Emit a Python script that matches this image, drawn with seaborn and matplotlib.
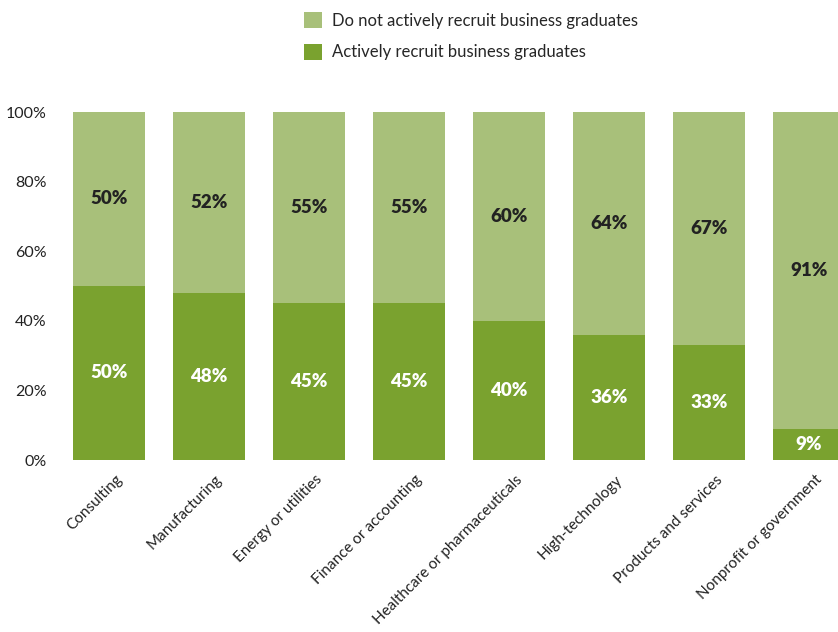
import matplotlib
matplotlib.use("Agg")
import matplotlib.pyplot as plt
from matplotlib.patches import Patch
from matplotlib.transforms import ScaledTranslation
import seaborn as sns
import pandas as pd

industries = ["Consulting", "Manufacturing", "Energy or utilities", "Finance or accounting",
              "Healthcare or pharmaceuticals", "High-technology", "Products and services",
              "Nonprofit or government"]
recruit = [50, 48, 45, 45, 40, 36, 33, 9]
not_recruit = [50, 52, 55, 55, 60, 64, 67, 91]

dark_green = "#7aa22f"
light_green = "#a8c07a"

sns.set_theme(style="white")
plt.rcParams["font.family"] = ["Lato", "DejaVu Sans"]

df = pd.DataFrame({"industry": industries, "recruit": recruit, "not_recruit": not_recruit})
df["total"] = df["recruit"] + df["not_recruit"]

fig = plt.figure(figsize=(8.38, 6.32), dpi=100)
ax = fig.add_axes([59 / 838, (632 - 460) / 632, (838 - 59) / 838, 348 / 632])

sns.barplot(data=df, x="industry", y="total", color=light_green, width=0.72,
            saturation=1, linewidth=0, ax=ax)
sns.barplot(data=df, x="industry", y="recruit", color=dark_green, width=0.72,
            saturation=1, linewidth=0, ax=ax)

ax.set_xlim(-0.5, 7.29)
ax.set_ylim(0, 100)
for s in ax.spines.values():
    s.set_visible(False)
ax.set_xlabel("")
ax.set_ylabel("")
ax.set_yticks([0, 20, 40, 60, 80, 100])
ax.set_yticklabels([f"{v}%" for v in [0, 20, 40, 60, 80, 100]], fontsize=11.5, color="#222222")
ax.tick_params(axis="y", length=0, pad=9)
ax.tick_params(axis="x", length=0, pad=4)
ax.set_xticks(range(len(industries)))
ax.set_xticklabels(industries, rotation=45, ha="right", rotation_mode="anchor",
                   fontsize=11, color="#222222")
for lbl in ax.get_xticklabels():
    lbl.set_transform(lbl.get_transform() + ScaledTranslation(0.06, -0.07, fig.dpi_scale_trans))

for i, (r, n) in enumerate(zip(recruit, not_recruit)):
    ax.text(i, r / 2, f"{r}%", ha="center", va="center", fontsize=13.5,
            fontweight="heavy", color="white")
    ax.text(i, r + n / 2, f"{n}%", ha="center", va="center", fontsize=13.5,
            fontweight="heavy", color="#222222")

handles = [Patch(facecolor=light_green, edgecolor="none"),
           Patch(facecolor=dark_green, edgecolor="none")]
fig.legend(handles, ["Do not actively recruit business graduates",
                     "Actively recruit business graduates"],
           loc="upper left", bbox_to_anchor=(289 / 838, 1 + 3 / 632), frameon=False,
           fontsize=12, handlelength=1.1, handleheight=1.1, labelspacing=0.9,
           handletextpad=0.6)

fig.savefig("out.png", dpi=100)
